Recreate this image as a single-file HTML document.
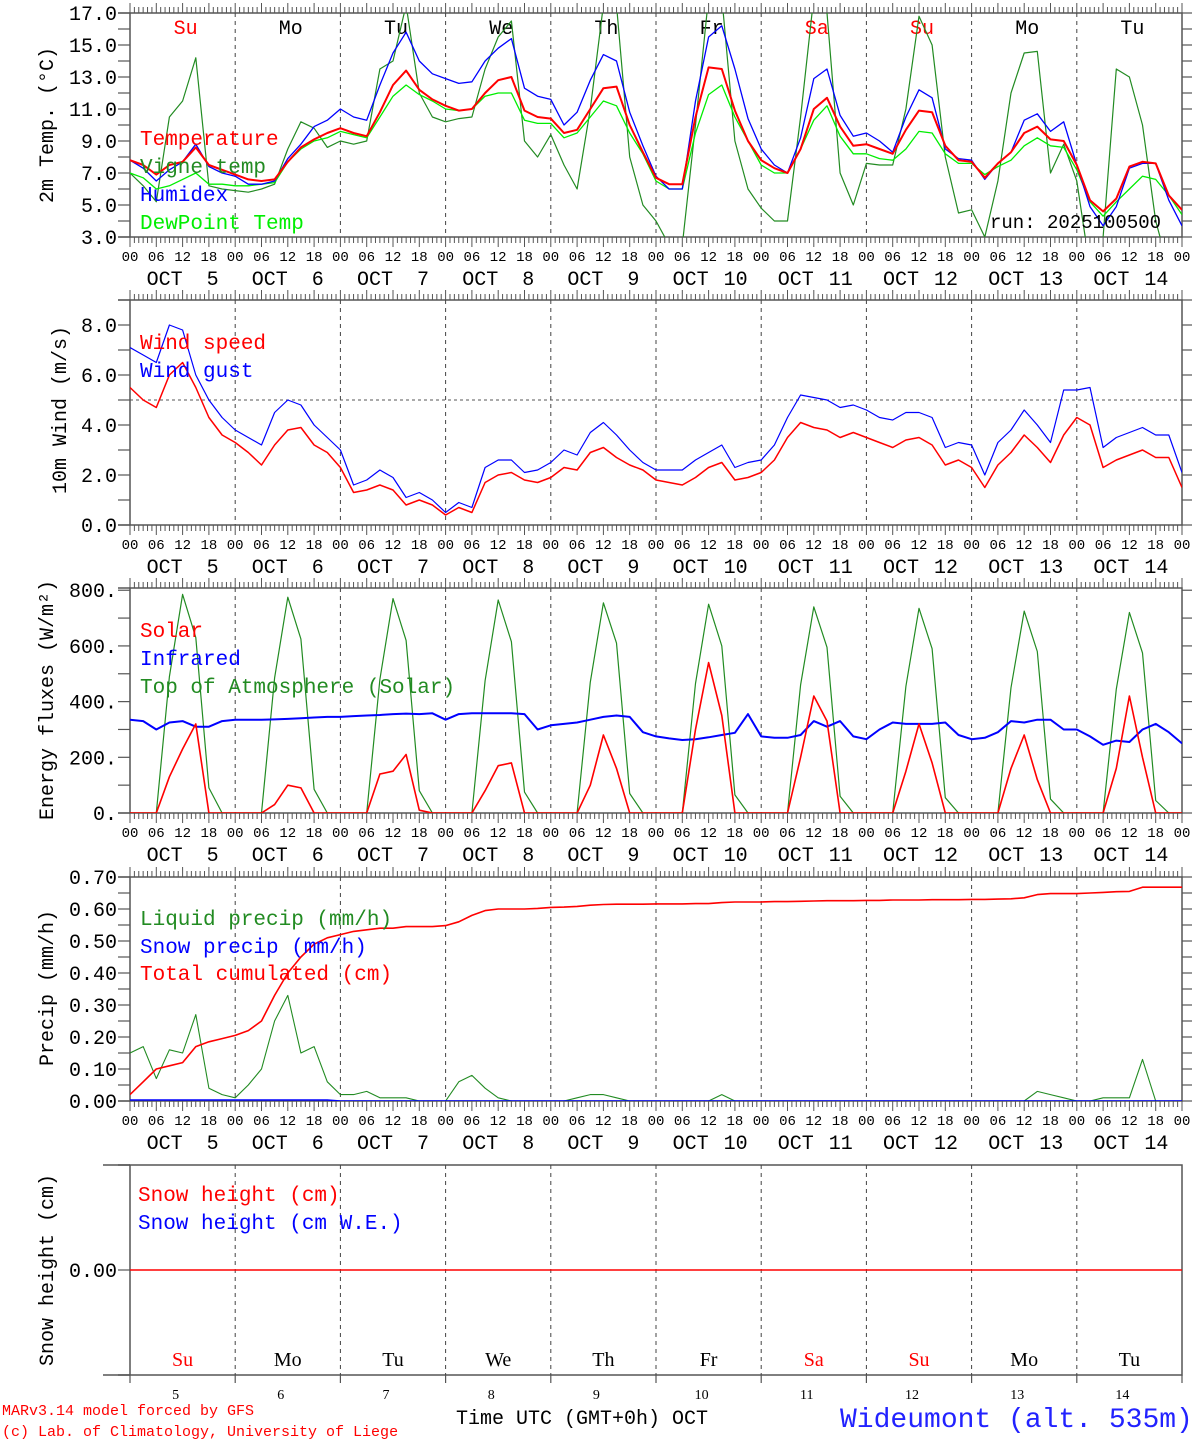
<!DOCTYPE html>
<html><head><meta charset="utf-8"><title>MAR forecast Wideumont</title>
<style>
html,body{margin:0;padding:0;background:#fff;}
svg{display:block;}
text{font-family:"Liberation Mono","DejaVu Sans Mono",monospace;}
.ser{font-family:"Liberation Serif",serif;}
</style></head>
<body>
<svg id="chart" width="1194" height="1440" viewBox="0 0 1194 1440" xmlns="http://www.w3.org/2000/svg">
<defs>
<clipPath id="c1"><rect x="130" y="13" width="1052" height="224"/></clipPath>
<clipPath id="c2"><rect x="130" y="300" width="1052" height="225"/></clipPath>
<clipPath id="c3"><rect x="130" y="588" width="1052" height="225"/></clipPath>
<clipPath id="c4"><rect x="130" y="877" width="1052" height="224"/></clipPath>
</defs>
<g id="layer"></g>
<text x="990" y="228" font-size="19" fill="#000">run: 2025100500</text>
<text x="140" y="145" font-size="21" fill="#ff0000">Temperature</text>
<text x="140" y="173" font-size="21" fill="#228b22">Vigne temp</text>
<text x="140" y="201" font-size="21" fill="#0000ff">Humidex</text>
<text x="140" y="229" font-size="21" fill="#00ee00">DewPoint Temp</text>
<text x="140" y="349" font-size="21" fill="#ff0000">Wind speed</text>
<text x="140" y="377" font-size="21" fill="#0000ff">Wind gust</text>
<text x="140" y="637" font-size="21" fill="#ff0000">Solar</text>
<text x="140" y="665" font-size="21" fill="#0000ff">Infrared</text>
<text x="140" y="693" font-size="21" fill="#228b22">Top of Atmosphere (Solar)</text>
<text x="140" y="925" font-size="21" fill="#228b22">Liquid precip (mm/h)</text>
<text x="140" y="953" font-size="21" fill="#0000ff">Snow precip (mm/h)</text>
<text x="140" y="980" font-size="21" fill="#ff0000">Total cumulated (cm)</text>
<text x="138" y="1201" font-size="21" fill="#ff0000">Snow height (cm)</text>
<text x="138" y="1229" font-size="21" fill="#0000ff">Snow height (cm W.E.)</text>
<text transform="translate(53,125) rotate(-90)" text-anchor="middle" font-size="20">2m Temp. (°C)</text>
<text transform="translate(66,410) rotate(-90)" text-anchor="middle" font-size="20">10m Wind (m/s)</text>
<text transform="translate(53,700) rotate(-90)" text-anchor="middle" font-size="20">Energy fluxes (W/m²)</text>
<text transform="translate(53,988) rotate(-90)" text-anchor="middle" font-size="20">Precip (mm/h)</text>
<text transform="translate(53,1270) rotate(-90)" text-anchor="middle" font-size="20">Snow height (cm)</text>
<text x="2" y="1415" font-size="15" fill="#ff0000">MARv3.14 model forced by GFS</text>
<text x="2" y="1436" font-size="15" fill="#ff0000">(c) Lab. of Climatology, University of Liege</text>
<text x="456" y="1424" font-size="20">Time UTC (GMT+0h) OCT</text>
<text x="840" y="1427" font-size="28" fill="#2222ff">Wideumont (alt. 535m)</text>
</svg>
<script>
// ---------- data (3-hourly, t = 0..240 h from 2025-10-05 00 UTC) ----------
const dayNums = [5,6,7,8,9,10,11,12,13,14];
const dayNames = ["Su","Mo","Tu","We","Th","Fr","Sa","Su","Mo","Tu"];
const hourTicks = ["00","06","12","18"];
const tempTicks = ["3.0","5.0","7.0","9.0","11.0","13.0","15.0","17.0"];
const windTicks = ["0.0","2.0","4.0","6.0","8.0"];
const fluxTicks = ["0.","200.","400.","600.","800."];
const precipTicks = ["0.00","0.10","0.20","0.30","0.40","0.50","0.60","0.70"];

const temperature = [7.8,7.5,6.9,7.5,7.7,8.6,7.5,7.2, 6.9,6.6,6.5,6.6,7.7,8.6,9.1,9.5, 9.8,9.5,9.3,10.8,12.5,13.4,12.2,11.6, 11.2,10.9,11.0,12.0,12.8,13.0,10.9,10.5, 10.4,9.5,9.7,11.0,12.3,12.4,10.0,8.3, 6.7,6.3,6.3,10.5,13.6,13.5,10.9,9.0, 7.8,7.3,7.0,8.5,11.0,11.7,9.9,8.7, 8.8,8.5,8.2,9.7,10.9,10.8,8.7,7.8, 7.7,6.7,7.6,8.3,9.5,9.9,9.1,9.0, 7.5,5.3,4.6,5.4,7.4,7.7,7.6,5.6,4.7];
const humidex = [7.8,7.3,6.5,7.2,7.7,8.8,7.4,7.0, 6.8,6.3,6.3,6.5,7.9,8.8,9.9,10.3, 11.0,10.5,10.3,12.5,14.5,15.8,14.0,13.2, 12.9,12.6,12.7,14.0,14.8,15.4,12.3,11.8, 11.6,10.0,10.8,12.8,14.4,14.0,10.8,8.7, 6.8,6.0,6.0,11.5,15.5,16.2,13.5,10.4, 8.5,7.5,7.0,9.2,12.9,13.5,10.6,9.3, 9.5,9.0,8.3,10.5,12.2,11.7,8.5,7.9, 7.8,6.6,7.6,8.3,10.3,10.7,9.6,10.2, 7.5,4.9,3.7,4.9,7.3,7.6,7.6,5.3,3.7];
const dewpoint = [7.0,6.7,6.0,6.2,6.6,7.0,6.3,6.3, 6.2,6.2,6.3,6.4,7.7,8.5,9.0,9.2, 9.6,9.4,9.2,10.5,11.8,12.5,11.9,11.5, 11.0,10.9,11.0,11.8,12.0,12.0,10.3,10.1, 10.1,9.2,9.5,10.5,11.5,11.2,9.5,8.2, 6.5,6.0,6.0,9.5,11.9,12.5,10.5,9.0, 7.5,7.0,7.0,8.5,10.3,11.2,9.3,8.2, 8.2,7.9,7.8,8.5,9.6,9.5,8.2,7.6, 7.6,6.9,7.4,7.8,8.7,9.2,8.7,8.6, 7.2,5.2,4.3,5.2,6.0,6.8,6.6,5.6,4.4];
const vigne = [7.0,6.2,5.2,10.5,11.5,14.2,6.2,6.0, 5.9,5.8,6.0,6.3,8.5,10.2,9.8,8.6, 9.0,8.8,9.0,13.5,14.0,17.5,12.0,10.5, 10.2,10.4,10.5,13.5,15.5,16.5,9.0,8.0, 9.4,7.5,6.0,11.0,17.5,17.5,8.0,5.0, 4.0,2.5,2.5,10.0,18.0,18.0,9.0,6.0, 4.8,4.0,4.0,10.5,18.0,17.0,7.0,5.0, 7.6,7.5,7.5,11.0,16.8,15.0,8.0,4.5, 4.7,3.0,6.5,12.0,14.5,14.6,7.0,8.8, 6.5,1.0,3.0,13.5,13.0,10.0,4.0,1.0,1.0];

const windSpeed = [5.5,5.0,4.7,6.0,6.5,5.5,4.3,3.6, 3.3,2.9,2.4,3.2,3.8,3.9,3.2,2.9, 2.3,1.3,1.4,1.6,1.4,0.8,1.0,0.8, 0.4,0.7,0.5,1.7,2.0,2.1,1.8,1.7, 1.9,2.3,2.2,2.9,3.1,2.7,2.4,2.2, 1.8,1.7,1.6,1.9,2.3,2.5,1.8,1.9, 2.1,2.6,3.5,4.1,3.9,3.8,3.5,3.7, 3.5,3.3,3.1,3.4,3.5,3.2,2.4,2.6, 2.3,1.5,2.4,2.9,3.6,3.1,2.5,3.6, 4.3,4.0,2.3,2.6,2.8,3.0,2.7,2.7,1.5];
const windGust = [7.1,6.8,6.5,8.0,7.8,6.0,5.0,4.3, 3.8,3.5,3.2,4.5,5.0,4.8,4.0,3.5, 3.0,1.6,1.8,2.2,1.9,1.1,1.3,1.0, 0.5,0.9,0.7,2.3,2.6,2.6,2.1,2.2, 2.5,3.0,2.8,3.7,4.1,3.6,3.0,2.5, 2.2,2.2,2.2,2.6,2.9,3.2,2.3,2.5, 2.6,3.2,4.3,5.2,5.1,5.0,4.7,4.8, 4.6,4.3,4.2,4.5,4.5,4.3,3.1,3.3, 3.2,2.0,3.3,3.8,4.6,4.0,3.3,5.4, 5.4,5.5,3.1,3.5,3.7,3.9,3.6,3.6,2.1];

const solar = [0,0,0,130,230,320,0,0, 0,0,0,30,100,90,0,0, 0,0,0,140,150,210,10,0, 0,0,0,80,170,180,0,0, 0,0,0,100,280,160,0,0, 0,0,0,300,540,350,0,0, 0,0,0,200,420,330,0,0, 0,0,0,150,320,180,0,0, 0,0,0,160,280,120,0,0, 0,0,0,160,420,200,0,0,0];
const toa = [0,0,0,490,785,630,90,0, 0,0,0,485,775,625,85,0, 0,0,0,480,770,620,80,0, 0,0,0,475,765,615,75,0, 0,0,0,470,755,610,70,0, 0,0,0,465,750,600,65,0, 0,0,0,460,740,595,60,0, 0,0,0,455,735,590,55,0, 0,0,0,450,725,580,50,0, 0,0,0,445,720,575,45,0,0];
const infrared = [335,330,300,325,330,310,310,330, 335,335,335,336,338,340,343,345, 345,348,350,352,355,357,355,358, 335,355,358,358,358,358,355,300, 315,320,325,335,345,350,345,290, 275,268,262,265,272,280,288,355, 275,270,270,280,330,310,330,275, 265,300,325,320,320,320,325,280, 265,270,290,330,325,335,335,300, 300,275,245,260,255,300,320,290,250];

const liquidPrecip = [0.15,0.17,0.07,0.16,0.15,0.27,0.04,0.02, 0.01,0.05,0.10,0.25,0.33,0.15,0.17,0.06, 0.02,0.02,0.03,0.01,0.01,0.01,0,0, 0,0.06,0.08,0.04,0.01,0,0,0, 0,0,0.01,0.02,0.02,0.01,0,0, 0,0,0,0,0,0.02,0,0, 0,0,0,0,0,0,0,0, 0,0,0,0,0,0,0,0, 0,0,0,0,0,0.03,0.02,0.01, 0,0,0.01,0.01,0.01,0.13,0,0,0];
const snowPrecip = [0.003,0.003,0.003,0.003,0.003,0.003,0.003,0.003, 0.003,0.003,0.003,0.003,0.003,0.003,0.003,0.003, 0,0,0,0,0,0,0,0, 0,0,0,0,0,0,0,0, 0,0,0,0,0,0,0,0, 0,0,0,0,0,0,0,0, 0,0,0,0,0,0,0,0, 0,0,0,0,0,0,0,0, 0,0,0,0,0,0,0,0, 0,0,0,0,0,0,0,0,0];
const totalCum = [0.02,0.06,0.10,0.11,0.12,0.17,0.185,0.195, 0.205,0.22,0.25,0.33,0.40,0.45,0.49,0.51, 0.52,0.53,0.535,0.54,0.54,0.545,0.545,0.545, 0.548,0.56,0.58,0.595,0.60,0.60,0.60,0.602, 0.605,0.606,0.608,0.612,0.614,0.615,0.615,0.615, 0.616,0.616,0.616,0.617,0.617,0.62,0.622,0.622, 0.622,0.623,0.623,0.624,0.625,0.626,0.626,0.626, 0.627,0.627,0.628,0.628,0.628,0.629,0.629,0.629, 0.63,0.63,0.631,0.632,0.635,0.645,0.648,0.648, 0.648,0.650,0.652,0.654,0.655,0.668,0.668,0.668,0.668];
const snowHeight = [0,0,0,0,0,0,0,0,0,0,0];
const snowHours = [0,24,48,72,96,120,144,168,192,216,240];

// ---------- geometry ----------
const NS = "http://www.w3.org/2000/svg";
const layer = document.getElementById("layer");
const L = 130, R = 1182, HOURS = 240;
const xs = t => L + t * (R - L) / HOURS;
const hours3 = temperature.map((_, i) => i * 3);
const panels = {
  temp:   {top:13,  bottom:237,  min:3, max:17},
  wind:   {top:300, bottom:525,  min:0, max:9},
  flux:   {top:588, bottom:813,  min:0, max:808},
  precip: {top:877, bottom:1101, min:0, max:0.70},
  snow:   {top:1165,bottom:1375, min:-1, max:1}
};
function yf(p){ return v => p.bottom - (v - p.min) / (p.max - p.min) * (p.bottom - p.top); }

function mk(tag, attrs){
  const e = document.createElementNS(NS, tag);
  for (const k in attrs) e.setAttribute(k, attrs[k]);
  return e;
}
function line(x1,y1,x2,y2,stroke,w,dash){
  const e = mk("line",{x1:x1,y1:y1,x2:x2,y2:y2,stroke:stroke,"stroke-width":w});
  if (dash) e.setAttribute("stroke-dasharray", dash);
  layer.appendChild(e);
  return e;
}
function txt(x,y,s,size,fill,anchor,cls){
  const e = mk("text",{x:x,y:y,"font-size":size,fill:fill||"#000","text-anchor":anchor||"middle"});
  if (cls) e.setAttribute("class", cls);
  e.textContent = s;
  layer.appendChild(e);
  return e;
}
function series(p, times, vals, color, w, clip, name){
  const y = yf(p);
  const pts = vals.map((v,i) => xs(times[i]).toFixed(1) + "," + y(v).toFixed(1)).join(" ");
  const e = mk("polyline",{points:pts,fill:"none",stroke:color,"stroke-width":w,"stroke-linejoin":"round"});
  if (clip) e.setAttribute("clip-path","url(#"+clip+")");
  
  
  layer.appendChild(e);
}

function frame(p, key, hourLabels){
  const b = mk("rect",{x:L,y:p.top,width:R-L,height:p.bottom-p.top,fill:"none",stroke:"#555","stroke-width":1.5});
  
  
  layer.appendChild(b);
  line(118,p.top,L,p.top,"#555",1.5);
  line(118,p.bottom,L,p.bottom,"#555",1.5);
  for (let d=1; d<10; d++){
    const x = xs(d*24);
    const g = line(x,p.top,x,p.bottom,"#444",1,"4,4");
    
    
  }
  if (hourLabels){
    for (let h=0; h<=HOURS; h++){
      const x = xs(h);
      const len = (h % 6 === 0) ? 10 : 6;
      line(x,p.bottom,x,p.bottom+len,"#555",1);
      line(x,p.top,x,p.top-len,"#555",1);
    }
    for (let d=0; d<10; d++){
      for (let k=0; k<4; k++){
        const t = txt(xs(d*24+k*6), p.bottom+24, hourTicks[k], 14, "#000");
        
        
      }
      const c = xs(d*24+12);
      const o = txt(c-18, p.bottom+48, "OCT", 20, "#000");
      
      
      const n = txt(c+(dayNums[d]>9?27:30), p.bottom+48, String(dayNums[d]), 20, "#000");
      
      
    }
    const f = txt(R, p.bottom+24, "00", 14, "#000");
    
    
  }
}
function yTicks(p, key, labels, step, minorStep){
  const y = yf(p);
  for (let v=p.min; v<=p.max+1e-9; v+=minorStep){
    const yy = y(v);
    line(118,yy,L,yy,"#555",1.2);
    line(R,yy,R+10,yy,"#555",1.2);
  }
  labels.forEach((s,i) => {
    const t = txt(117, y(p.min + i*step)+7, s, 20, "#000", "end");
    
    
  });
}

// ---------- panel 1 temperature ----------
const P1 = panels.temp;
frame(P1,"temp",true);
yTicks(P1,"temp",tempTicks,2,1);
for (let d=0; d<10; d++){
  const col = (dayNames[d]==="Su"||dayNames[d]==="Sa") ? "#ff0000" : "#000";
  const t = txt(xs(d*24+12)+3, 34, dayNames[d], 20, col);
  
  
}
series(P1,hours3,vigne,"#228b22",1.2,"c1","vigne-temp-line");
series(P1,hours3,dewpoint,"#00ee00",1.3,"c1","dewpoint-line");
series(P1,hours3,humidex,"#0000ff",1.3,"c1","humidex-line");
series(P1,hours3,temperature,"#ff0000",2,"c1","temperature-line");

// ---------- panel 2 wind ----------
const P2 = panels.wind;
frame(P2,"wind",true);
yTicks(P2,"wind",windTicks,2,1);
const ref = line(L,yf(P2)(5),R,yf(P2)(5),"#555",1,"3,3");


series(P2,hours3,windGust,"#0000ff",1.2,"c2","wind-gust-line");
series(P2,hours3,windSpeed,"#ff0000",1.5,"c2","wind-speed-line");

// ---------- panel 3 fluxes ----------
const P3 = panels.flux;
frame(P3,"flux",true);
yTicks(P3,"flux",fluxTicks,200,100);
series(P3,hours3,toa,"#228b22",1.2,"c3","toa-solar-line");
series(P3,hours3,infrared,"#0000ff",2,"c3","infrared-line");
series(P3,hours3,solar,"#ff0000",1.6,"c3","solar-line");

// ---------- panel 4 precip ----------
const P4 = panels.precip;
frame(P4,"precip",true);
yTicks(P4,"precip",precipTicks,0.1,0.05);
series(P4,hours3,liquidPrecip,"#228b22",1.1,"c4","liquid-precip-line");
series(P4,hours3,snowPrecip,"#0000ff",1.6,"c4","snow-precip-line");
series(P4,hours3,totalCum,"#ff0000",1.6,"c4","total-cumulated-line");

// ---------- panel 5 snow ----------
const P5 = panels.snow;
frame(P5,"snow",false);
line(103,P5.top,L,P5.top,"#555",1.5);
line(103,P5.bottom,L,P5.bottom,"#555",1.5);
for (let d=0; d<=10; d++){
  const x = xs(d*24);
  line(x,P5.bottom,x,P5.bottom+8,"#555",1.2);
}
line(118,yf(P5)(0),L,yf(P5)(0),"#555",1.2);
const z = txt(117, yf(P5)(0)+7, "0.00", 20, "#000", "end");


series(P5,snowHours,snowHeight,"#ff0000",1.6,null,"snow-height-line");
for (let d=0; d<10; d++){
  const col = (dayNames[d]==="Su"||dayNames[d]==="Sa") ? "#ff0000" : "#000";
  const t = txt(xs(d*24+12), 1366, dayNames[d], 20, col, "middle", "ser");
  
  
  const n = txt(xs(d*24+12)-7, 1399, String(dayNums[d]), 14, "#000", "middle", "ser");
  
  
}
</script>
</body></html>
